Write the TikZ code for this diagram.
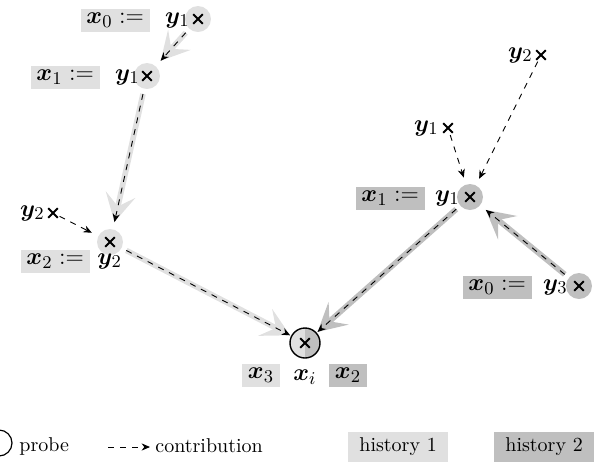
\documentclass[tikz,border=0pt]{standalone}
\usepackage{amsmath,bm}
\usetikzlibrary{arrows.meta,calc}
\definecolor{hone}{gray}{0.88}
\definecolor{htwo}{gray}{0.75}
\begin{document}
\begin{tikzpicture}[x=0.5pt,y=-0.5pt,
  ptbase/.style={circle,inner sep=0pt,minimum size=13pt},
  hpa/.style={ptbase,fill=hone},
  hpb/.style={ptbase,fill=htwo},
  bare/.style={circle,inner sep=0pt,minimum size=7pt},
  xm/.pic={\draw[line width=0.95pt] (-2.4pt,-2.4pt)--(2.4pt,2.4pt) (-2.4pt,2.4pt)--(2.4pt,-2.4pt);},
  ylab/.style={inner sep=0pt,font=\fontsize{13}{15}\selectfont},
  boxa/.style={fill=hone,inner xsep=2.8pt,inner ysep=0pt,minimum height=11.5pt,font=\fontsize{13}{15}\selectfont},
  boxb/.style={boxa,fill=htwo},
  lbox/.style={inner xsep=5.5pt,inner ysep=0pt,minimum height=15pt},
  contrib/.style={dash pattern=on 3pt off 3pt,line width=0.45pt,-{Stealth[length=4.2pt,width=3.6pt]}},
  hista/.style={color=hone,line width=2.8pt,-{Stealth[length=14pt,width=15pt,inset=6pt]}},
  histb/.style={hista,color=htwo},
  sh/.style={shorten >=3.5pt,shorten <=2.5pt}
]
\useasboundingbox (0,0) rectangle (607,463);

% history 1 points
\node[hpa] (a0) at (198,19) {};
\node[hpa] (a1) at (147,76) {};
\node[hpa] (a2) at (110,242) {};
% history 2 points
\node[hpb] (b1) at (470,197) {};
\node[hpb] (b0) at (579,286) {};
% bare points
\node[bare] (ly2) at (53,213) {};
\node[bare] (ry1) at (448,128) {};
\node[bare] (ry2) at (541,55) {};
% probe
\node[circle,draw,line width=0.7pt,inner sep=0pt,minimum size=15pt,
  path picture={\fill[hone] (path picture bounding box.south west) rectangle (path picture bounding box.north);
                \fill[htwo] (path picture bounding box.south) rectangle (path picture bounding box.north east);}]
  (pr) at (305,343) {};

% labels
\node[ylab,anchor=east] (a0y) at (190,20) {$\bm{y}_1$};
\node[boxa,anchor=east] (a0x) at (150,20) {$\bm{x}_0 :=$};
\node[ylab,anchor=east] (a1y) at (140,77) {$\bm{y}_1$};
\node[boxa,anchor=east] (a1x) at (100,77) {$\bm{x}_1 :=$};
\node[ylab,anchor=west] (a2y) at (97,261) {$\bm{y}_2$};
\node[boxa,anchor=east] (a2x) at (90,261) {$\bm{x}_2 :=$};
\node[ylab,anchor=east] (b1y) at (460,198) {$\bm{y}_1$};
\node[boxb,anchor=east] (b1x) at (425,198) {$\bm{x}_1 :=$};
\node[ylab,anchor=east] (b0y) at (568,287) {$\bm{y}_3$};
\node[boxb,anchor=east] (b0x) at (532,287) {$\bm{x}_0 :=$};
\node[ylab,anchor=east] (ly2y) at (45,213) {$\bm{y}_2$};
\node[ylab,anchor=east] (ry1y) at (439,128) {$\bm{y}_1$};
\node[ylab,anchor=east] (ry2y) at (533,55) {$\bm{y}_2$};
\node[boxa,anchor=east] (px3) at (280,375) {$\bm{x}_3$};
\node[ylab] (pxi) at (305,377) {$\bm{x}_i$};
\node[boxb,anchor=west] (px2) at (329,375) {$\bm{x}_2$};

% crosses
\foreach \p in {a0,a1,a2,b1,b0,ly2,ry1,ry2,pr} \pic at (\p) {xm};

% history arrows
\draw[hista,sh] (a0) -- (a1);
\draw[hista,sh] (a1) -- (a2);
\draw[hista,shorten <=2.5pt,shorten >=0.5pt] (a2) -- (pr);
\draw[histb,sh] (b0) -- (b1);
\draw[histb,shorten <=2.5pt,shorten >=0.5pt] (b1) -- (pr);
% contributions
\draw[contrib,sh] (a0) -- (a1);
\draw[contrib,sh] (a1) -- (a2);
\draw[contrib,shorten <=2.5pt,shorten >=0.5pt] (a2) -- (pr);
\draw[contrib,sh] (b0) -- (b1);
\draw[contrib,shorten <=2.5pt,shorten >=0.5pt] (b1) -- (pr);
\draw[contrib,shorten >=3.5pt] (ly2) -- (a2);
\draw[contrib,shorten >=3.5pt] (ry1) -- (b1);
\draw[contrib,shorten >=3.5pt] (ry2) -- (b1);

% legend
\node[circle,draw,line width=0.6pt,inner sep=0pt,minimum size=13pt] (lp) at (-1,443) {};
\node[anchor=west,inner sep=0pt] (lpt) at (19,446) {probe};
\coordinate (lc0) at (108,447);
\coordinate (lc1) at (150,447);
\draw[contrib] (lc0) -- (lc1);
\node[anchor=west,inner sep=0pt] (lct) at (155,446) {contribution};
\node[lbox,fill=hone,anchor=west] (lh1) at (348,447) {history 1};
\node[lbox,fill=htwo,anchor=west] (lh2) at (494,447) {history 2};
\end{tikzpicture}
\end{document}
